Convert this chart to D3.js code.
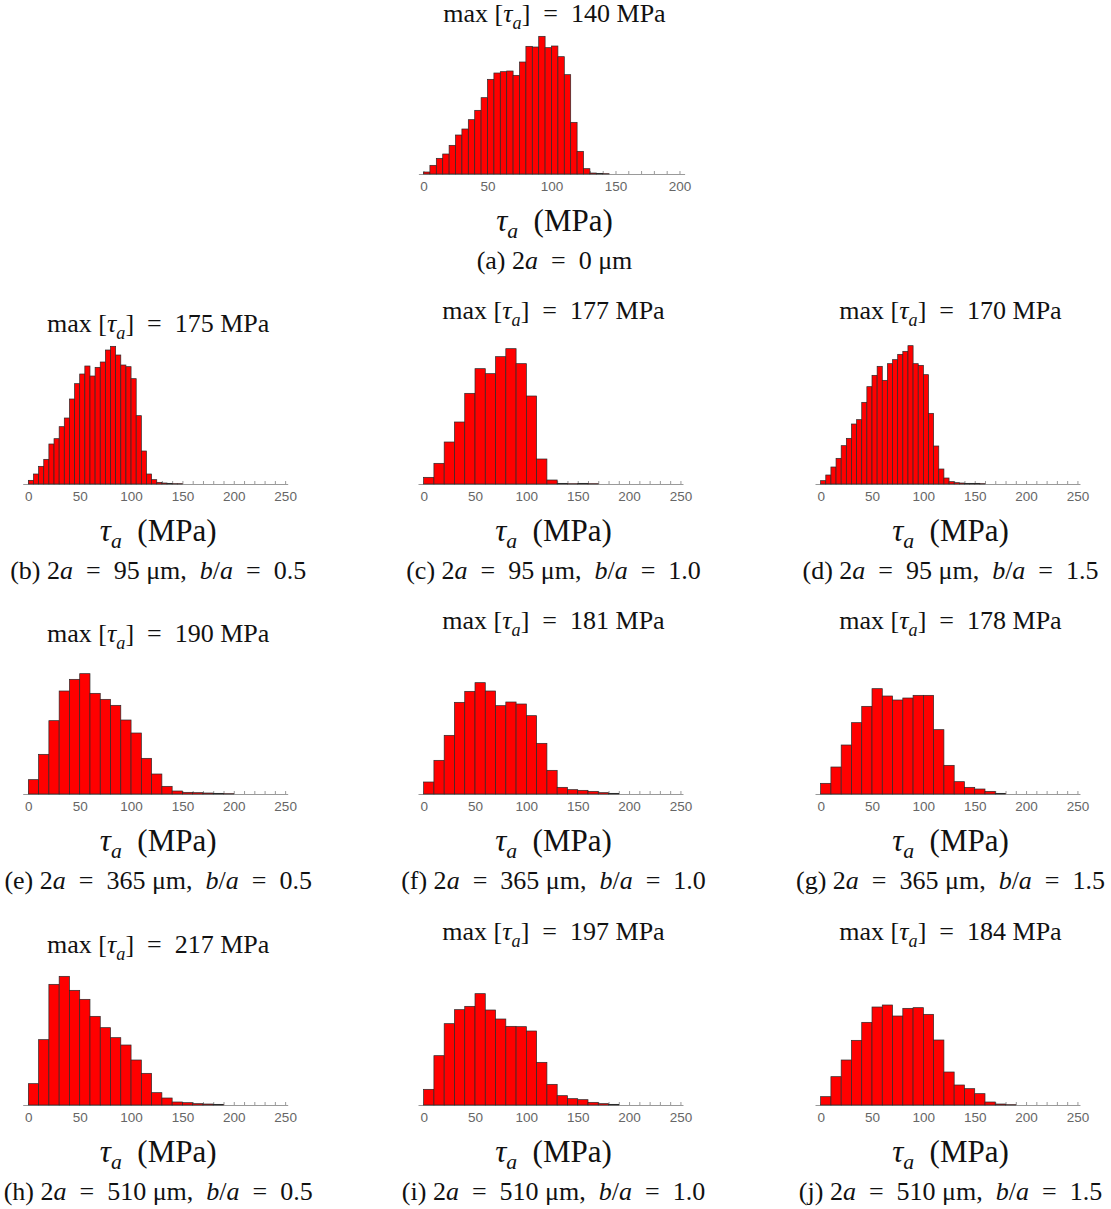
<!DOCTYPE html>
<html>
<head>
<meta charset="utf-8">
<script src="https://cdn.jsdelivr.net/npm/d3@7"></script>
<style>
  body { margin: 0; background: #fff; }
  text { white-space: pre; }
</style>
</head>
<body>
<div id="chart"></div>
<script>
// histogram frequencies (arbitrary units), bins start at 0 MPa
var histA = [6,26,47,60,86,117,135,163,191,229,284,303,307,309,296,336,383,381,413,379,384,352,298,155,68,16,3,2,1];
var histB = [11,30,53,74,120,136,172,198,255,301,330,354,324,350,366,402,413,387,357,352,316,205,99,30,13,5,3,2,1,1];
var histC = [20,62,126,186,272,346,331,382,406,361,264,75,12,2,1,2,1];
var histD = [10,27,51,77,115,137,180,193,245,292,326,353,311,361,373,389,398,415,361,356,328,212,114,45,18,7,4,3,2,2,2,1];
var histE = [43,119,220,309,344,361,302,284,266,222,183,107,60,23,9,5,4,3,2,1];
var histF = [36,101,176,275,308,334,309,265,276,270,235,152,71,20,13,11,8,4,2];
var histG = [32,81,147,214,263,316,294,282,288,296,296,193,86,37,20,15,8,2];
var histH = [64,196,362,386,344,317,266,232,202,180,135,95,37,21,9,7,4,3,2];
var histI = [47,148,244,286,296,334,285,258,236,235,222,128,62,28,19,16,8,4,2];
var histJ = [25,85,135,194,248,294,300,267,290,292,272,195,99,60,49,34,9,3,1];

var binWidths = [5, 5, 10, 5, 10, 10, 10, 10, 10, 10];
var maxTau = [140, 175, 177, 170, 190, 181, 178, 217, 197, 184];
var letters = ["a", "b", "c", "d", "e", "f", "g", "h", "i", "j"];
var crackSize = [0, 95, 95, 95, 365, 365, 365, 510, 510, 510];
var aspect = [null, "0.5", "1.0", "1.5", "0.5", "1.0", "1.5", "0.5", "1.0", "1.5"];
var xMax = [200, 250, 250, 250, 250, 250, 250, 250, 250, 250];
var yMax = 414;

var hists = [histA, histB, histC, histD, histE, histF, histG, histH, histI, histJ];

var width = 1111, height = 1209;
var plotH = 138;

// panel layout: axis pixel range, baseline, title offset
var cols = [[22.7, 287.7], [418, 683], [815, 1080]];
var baselines = [174, 484, 794, 1105];

function layout(i) {
  if (i === 0) return { range: [418.4, 684.6], domain: [-4, 204], base: baselines[0], titleOff: -160 };
  var row = Math.floor((i - 1) / 3) + 1, col = (i - 1) % 3;
  return { range: cols[col], domain: [-5.5, 252.5], base: baselines[row], titleOff: col === 0 ? -160 : -173 };
}

var svg = d3.select("#chart").append("svg")
  .attr("width", width)
  .attr("height", height);

var serif = "'Liberation Serif', 'Times New Roman', serif";

// write a line of "math" text from runs: r = roman, i = italic, s = italic subscript
function mathText(g, cx, cy, size, runs) {
  var t = g.append("text")
    .attr("x", cx)
    .attr("y", cy + size * 0.32)
    .attr("text-anchor", "middle")
    .style("font-family", serif)
    .style("font-size", size + "px")
    .style("fill", "#111");
  var shift = 0;
  runs.forEach(function(r) {
    var ts = t.append("tspan").text(r[0]);
    var dy = 0;
    if (r[1] === "s") {
      dy = size * 0.24 - shift;
      shift = size * 0.24;
      ts.style("font-size", (size * 0.7) + "px").style("font-style", "italic");
    } else {
      dy = -shift;
      shift = 0;
      if (r[1] === "i") ts.style("font-style", "italic");
    }
    if (dy !== 0) ts.attr("dy", dy);
  });
  return t;
}

hists.forEach(function(data, i) {
  var L = layout(i);
  var g = svg.append("g").attr("class", "panel-" + letters[i]);

  var x = d3.scaleLinear().domain(L.domain).range(L.range);
  var y = d3.scaleLinear().domain([0, yMax]).range([L.base, L.base - plotH]);
  var cx = (L.range[0] + L.range[1]) / 2 + 3;

  // x axis, ticks every 10, labels every 50
  var axis = g.append("g")
    .attr("transform", "translate(0," + L.base + ")")
    .call(d3.axisBottom(x)
      .tickValues(d3.range(0, xMax[i] + 1, 10))
      .tickSizeInner(-3)
      .tickSizeOuter(0)
      .tickPadding(7)
      .tickFormat(function(d) { return d % 50 === 0 ? d : ""; }));
  axis.select(".domain").attr("stroke", "#9a9a9a").attr("stroke-width", 1);
  axis.selectAll(".tick line").attr("stroke", "#9a9a9a");
  axis.selectAll(".tick text")
    .style("font-family", "'Liberation Sans', Arial, sans-serif")
    .style("font-size", "13.5px")
    .style("fill", "#666");

  var w = binWidths[i];
  g.selectAll("rect.bar")
    .data(data)
    .enter()
    .append("rect")
      .attr("class", "bar")
      .attr("x", function(d, k) { return x(k * w); })
      .attr("width", function(d, k) { return x((k + 1) * w) - x(k * w); })
      .attr("y", function(d) { return y(d); })
      .attr("height", function(d) { return y(0) - y(d); })
      .attr("fill", "#ff0000")
      .attr("stroke", "#2a2a2a")
      .attr("stroke-width", 0.7);

  // title
  mathText(g, cx, L.base + L.titleOff, 26, [
    ["max [", "r"], ["τ", "i"], ["a", "s"], ["]  =  " + maxTau[i] + " MPa", "r"]
  ]);

  // x label
  mathText(g, cx, L.base + 47, 31, [
    ["τ", "i"], ["a", "s"], ["  (MPa)", "r"]
  ]);

  // caption
  var cap = [["(" + letters[i] + ") 2", "r"], ["a", "i"], ["  =  " + crackSize[i] + " μm", "r"]];
  if (aspect[i] !== null) {
    cap = cap.concat([[",  ", "r"], ["b", "i"], ["/", "r"], ["a", "i"], ["  =  " + aspect[i], "r"]]);
  }
  mathText(g, cx, L.base + 87, 26, cap);
});
</script>
</body>
</html>
